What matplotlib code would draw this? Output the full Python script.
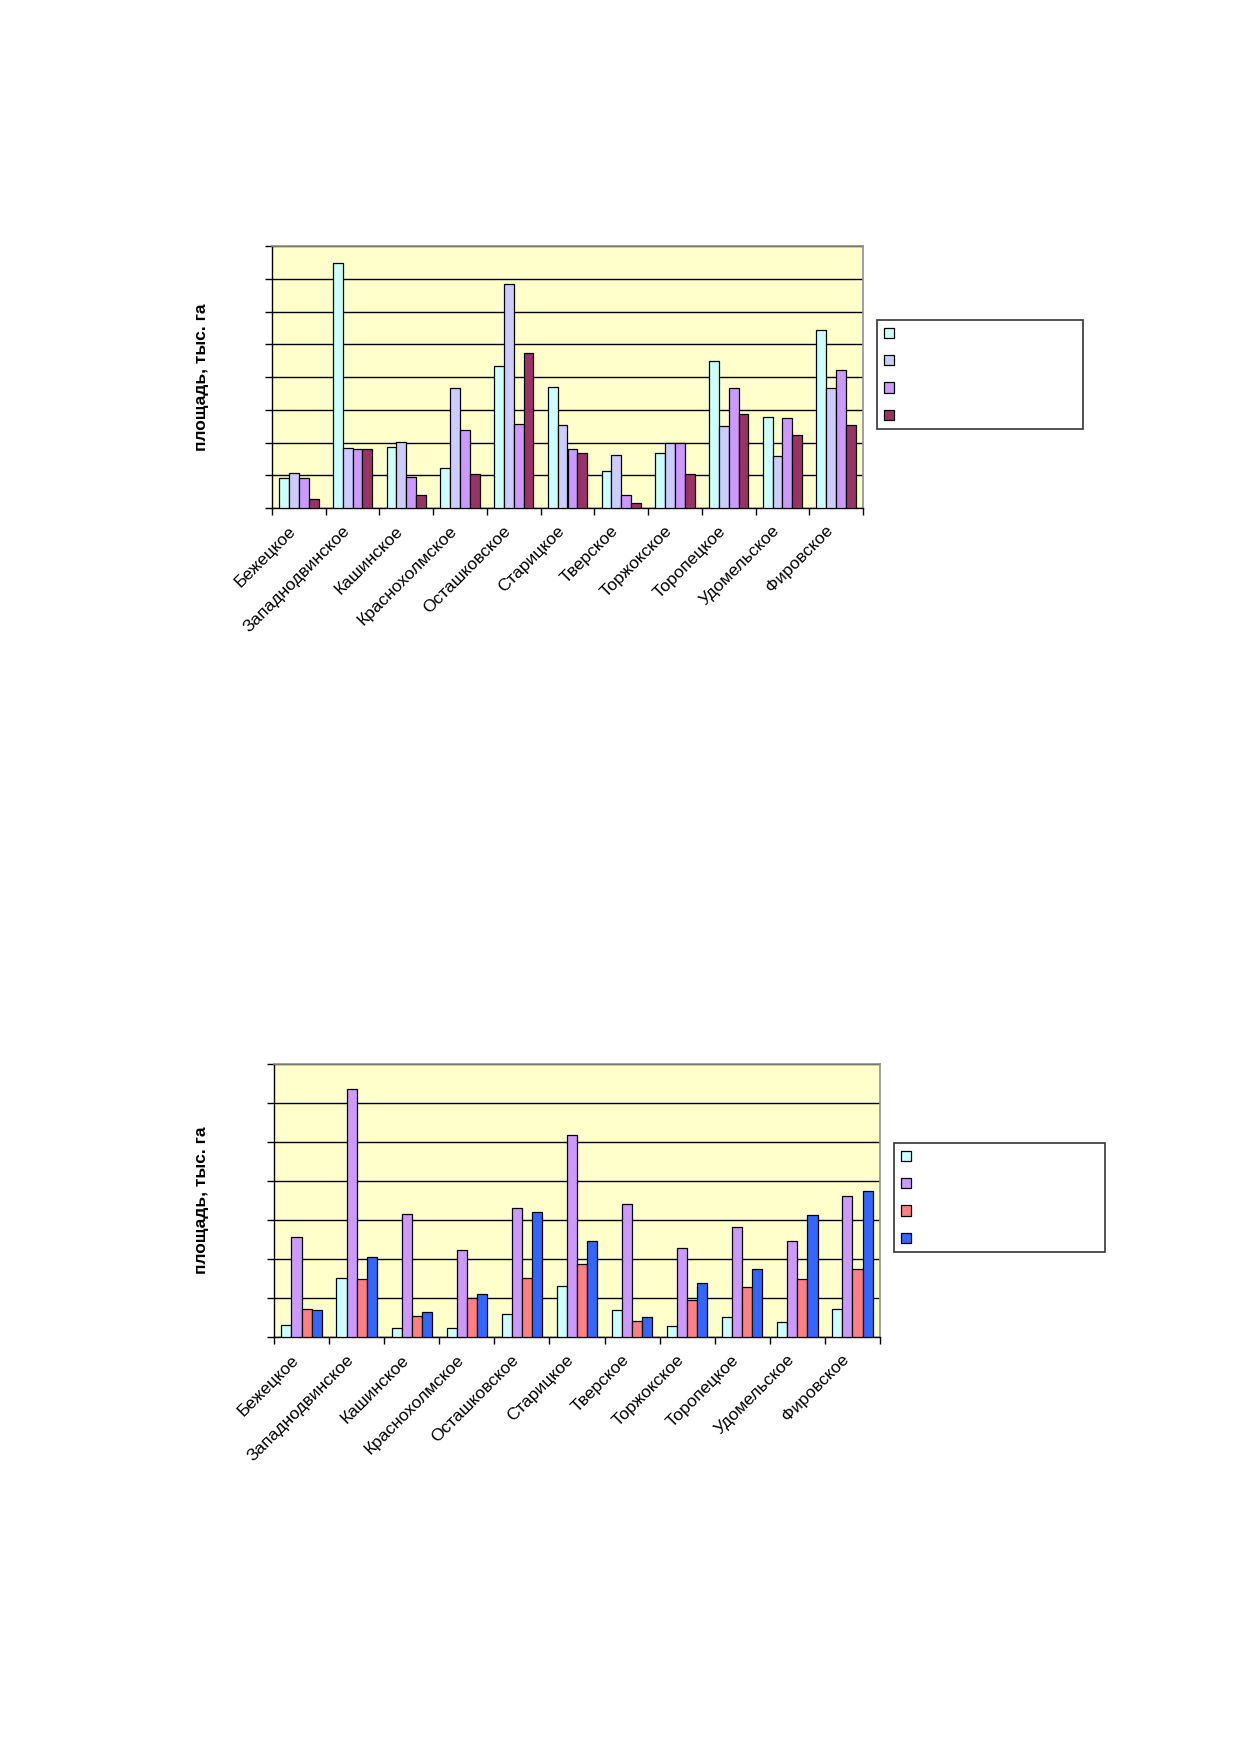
import numpy as np
import matplotlib
matplotlib.use("Agg")
import matplotlib.pyplot as plt
from matplotlib.patches import Patch

plt.rcParams['font.family'] = ['Liberation Sans', 'DejaVu Sans']

districts = ['Бежецкое', 'Западнодвинское', 'Кашинское', 'Краснохолмское',
             'Осташковское', 'Старицкое', 'Тверское', 'Торжокское',
             'Торопецкое', 'Удомельское', 'Фировское']

# chart 1 (values in gridline units, no scale printed on the original)
top_s1 = [0.92, 7.48, 1.87, 1.23, 4.34, 3.70, 1.13, 1.67, 4.49, 2.79, 5.42]
top_s2 = [1.07, 1.83, 2.03, 3.66, 6.85, 2.52, 1.63, 1.99, 2.51, 1.59, 3.66]
top_s3 = [0.92, 1.79, 0.96, 2.39, 2.56, 1.79, 0.40, 1.99, 3.66, 2.74, 4.21]
top_s4 = [0.26, 1.79, 0.41, 1.04, 4.74, 1.68, 0.16, 1.04, 2.86, 2.23, 2.52]
top_colors = ['#CCFFFF', '#CCCCFF', '#CC99FF', '#993366']

# chart 2
bot_s1 = [0.31, 1.52, 0.24, 0.24, 0.58, 1.32, 0.69, 0.27, 0.51, 0.38, 0.73]
bot_s2 = [2.56, 6.37, 3.16, 2.22, 3.30, 5.18, 3.40, 2.29, 2.81, 2.46, 3.62]
bot_s3 = [0.73, 1.49, 0.55, 1.00, 1.52, 1.87, 0.40, 0.95, 1.28, 1.49, 1.74]
bot_s4 = [0.69, 2.04, 0.65, 1.10, 3.20, 2.46, 0.51, 1.38, 1.74, 3.13, 3.75]
bot_colors = ['#CCFFFF', '#CC99FF', '#FF8080', '#3366FF']

W, H = 1239, 1752
fig = plt.figure(figsize=(W / 100, H / 100), dpi=100)


def draw_chart(rect, series, colors, ymax, legend_rect):
    ax = fig.add_axes(rect)
    ax.set_facecolor('#FFFFCC')
    x = np.arange(len(districts))
    bw = 0.183
    n = len(series)
    for i, (vals, c) in enumerate(zip(series, colors)):
        ax.bar(x + (i - (n - 1) / 2) * bw, vals, bw, color=c,
               edgecolor='black', linewidth=0.9, zorder=3)

    ax.set_xlim(-0.5, len(districts) - 0.5)
    ax.set_ylim(0, ymax)
    ax.set_yticks(np.arange(0, ymax + 1))
    ax.set_yticklabels([])
    ax.yaxis.grid(True, color='black', linewidth=1.0, zorder=1)
    ax.set_axisbelow(True)

    # ticks at group boundaries, names placed under group centres
    ax.set_xticks(np.arange(-0.5, len(districts)))
    ax.set_xticklabels([])
    for xi, name in zip(x, districts):
        ax.annotate(name, xy=(xi, 0), xycoords=('data', 'axes fraction'),
                    xytext=(-11, -15), textcoords='offset pixels',
                    rotation=45, ha='right', va='top',
                    rotation_mode='anchor', fontsize=12.5)
    ax.tick_params(axis='both', which='major', direction='out', length=5,
                   width=1, color='black')

    for s in ['top', 'right']:
        ax.spines[s].set_color('#909090')
        ax.spines[s].set_linewidth(1.2)
    for s in ['left', 'bottom']:
        ax.spines[s].set_color('black')
        ax.spines[s].set_linewidth(1.0)

    ax.set_ylabel('площадь, тыс. га', fontsize=12.5, fontweight='bold')
    ax.yaxis.set_label_coords(-0.107, 0.5)

    handles = [Patch(facecolor=c, edgecolor='black', linewidth=0.9) for c in colors]
    leg = fig.legend(handles, [' '] * n, loc='upper left',
                     bbox_to_anchor=legend_rect, mode='expand',
                     fontsize=10, handlelength=0.75, handleheight=0.75,
                     labelspacing=0.95, borderpad=0.5, borderaxespad=0,
                     fancybox=False, frameon=True, handletextpad=0.6)
    leg.get_frame().set_edgecolor('black')
    leg.get_frame().set_linewidth(1.2)
    return ax


draw_chart([272 / W, 1 - 508 / H, 591 / W, 262 / H],
           [top_s1, top_s2, top_s3, top_s4], top_colors, 8,
           (877 / W, 1 - 429 / H, 206 / W, 109 / H))

draw_chart([274 / W, 1 - 1337 / H, 606 / W, 273 / H],
           [bot_s1, bot_s2, bot_s3, bot_s4], bot_colors, 7,
           (894 / W, 1 - 1257 / H, 211 / W, 114 / H))

fig.savefig('out.png', dpi=100, facecolor='white')
